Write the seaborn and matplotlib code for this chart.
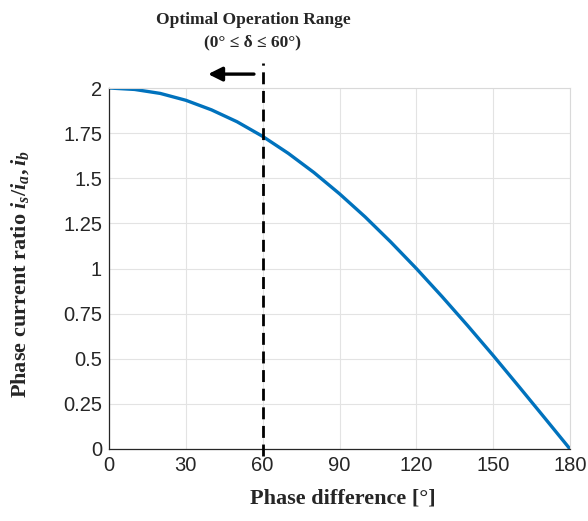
import matplotlib
matplotlib.use("Agg")
import matplotlib.pyplot as plt
import seaborn as sns
import pandas as pd

# Phase current ratio against phase difference
phase_deg = [0, 10, 20, 30, 40, 50, 60, 70, 80, 90, 100, 110, 120, 130, 140, 150, 160, 170, 180]
current_ratio = [2.0, 1.992, 1.970, 1.932, 1.879, 1.813, 1.732, 1.638, 1.532, 1.414,
                 1.286, 1.147, 1.0, 0.845, 0.684, 0.518, 0.347, 0.174, 0.0]
x_ticks = [0, 30, 60, 90, 120, 150, 180]
y_ticks = [0, 0.25, 0.5, 0.75, 1, 1.25, 1.5, 1.75, 2]
y_tick_labels = ["0", "0.25", "0.5", "0.75", "1", "1.25", "1.5", "1.75", "2"]
limit_deg = 60

sns.set_theme(style="whitegrid")
plt.rcParams["font.family"] = ["Liberation Sans", "DejaVu Sans"]
plt.rcParams["mathtext.fontset"] = "custom"
plt.rcParams["mathtext.it"] = "Liberation Serif:italic:bold"
plt.rcParams["mathtext.rm"] = "Liberation Serif:bold"
plt.rcParams["mathtext.bf"] = "Liberation Serif:bold"

df = pd.DataFrame({"phase": phase_deg, "ratio": current_ratio})

fig = plt.figure(figsize=(5.88, 5.21), dpi=100)
left_px, right_px, top_px, bottom_px = 109, 570, 88, 449
ax = fig.add_axes([left_px / 588, 1 - bottom_px / 521,
                   (right_px - left_px) / 588, (bottom_px - top_px) / 521])

sns.lineplot(data=df, x="phase", y="ratio", ax=ax, color="#0072BD", linewidth=2.4)

ax.set_xlim(0, 180)
ax.set_ylim(0, 2)
ax.set_xticks(x_ticks)
ax.set_xticklabels([str(t) for t in x_ticks])
ax.set_yticks(y_ticks)
ax.set_yticklabels(y_tick_labels)
ax.tick_params(axis="both", labelsize=14.5, colors="#262626", length=0, pad=5)
ax.grid(True, color="#e3e3e3", linewidth=0.8)
ax.set_facecolor("white")

for side in ["left", "bottom"]:
    ax.spines[side].set_color("#262626")
    ax.spines[side].set_linewidth(0.9)
for side in ["top", "right"]:
    ax.spines[side].set_color("#d9d9d9")
    ax.spines[side].set_linewidth(0.8)

label_font = dict(family=["Liberation Serif", "DejaVu Serif"], fontweight="bold", fontsize=16)
ax.set_xlabel("Phase difference [°]", **label_font)
ax.set_ylabel(r"Phase current ratio $i_s/i_a, i_b$", **label_font)
ax.xaxis.set_label_coords((343 - left_px) / (right_px - left_px), (bottom_px - 489) / (bottom_px - top_px))
ax.yaxis.set_label_coords((31 - left_px) / (right_px - left_px), (bottom_px - 274) / (bottom_px - top_px))

# Vertical limit line extending beyond the plot area
ax.plot([limit_deg, limit_deg], [-0.039, 2.138], color="black", linestyle=(0, (4.3, 2.4)),
        linewidth=2.0, clip_on=False, zorder=5)

# Arrow pointing toward the optimal range
ax.annotate("", xy=(38.7, 2.077), xytext=(56.6, 2.077), xycoords="data",
            arrowprops=dict(arrowstyle="-|>,head_length=0.7,head_width=0.35",
                            color="black", linewidth=2.4, shrinkA=0, shrinkB=0),
            annotation_clip=False)

title_font = dict(family=["Liberation Serif", "DejaVu Serif"], fontweight="bold", fontsize=12.5)
fig.text(253 / 588, 1 - 20 / 521, "Optimal Operation Range", ha="center", va="center", **title_font)
fig.text(253 / 588, 1 - 42 / 521, "(0° ≤ δ ≤ 60°)", ha="center", va="center", **title_font)

fig.savefig("out.png", dpi=100, facecolor="white")
